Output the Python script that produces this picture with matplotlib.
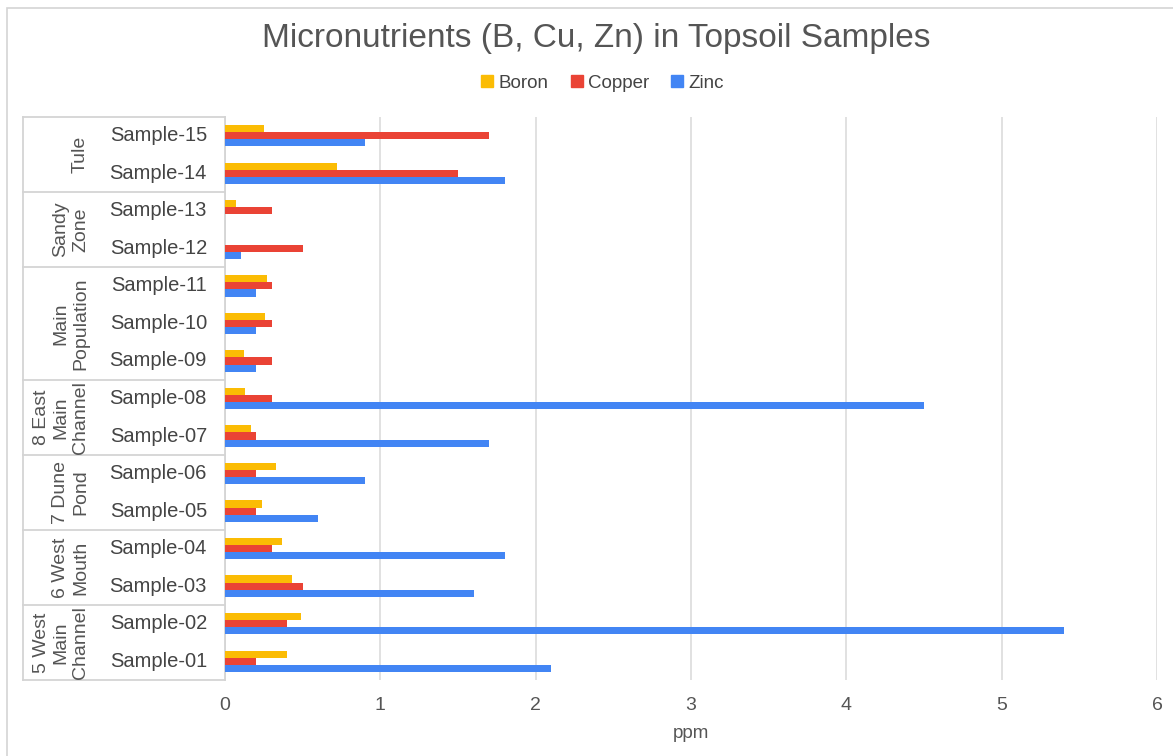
import matplotlib.pyplot as plt
import numpy as np
from matplotlib.lines import Line2D
from matplotlib.patches import Rectangle
from matplotlib.transforms import blended_transform_factory

plt.rcParams['font.family'] = ['Liberation Sans', 'DejaVu Sans']

# ── data (bottom row first) ──────────────────────────────────────────────────
samples = ['Sample-01', 'Sample-02', 'Sample-03', 'Sample-04', 'Sample-05',
           'Sample-06', 'Sample-07', 'Sample-08', 'Sample-09', 'Sample-10',
           'Sample-11', 'Sample-12', 'Sample-13', 'Sample-14', 'Sample-15']
boron  = [0.40, 0.49, 0.43, 0.37, 0.24, 0.33, 0.17, 0.13, 0.12, 0.26,
          0.27, 0.00, 0.07, 0.72, 0.25]
copper = [0.20, 0.40, 0.50, 0.30, 0.20, 0.20, 0.20, 0.30, 0.30, 0.30,
          0.30, 0.50, 0.30, 1.50, 1.70]
zinc   = [2.10, 5.40, 1.60, 1.80, 0.60, 0.90, 1.70, 4.50, 0.20, 0.20,
          0.20, 0.10, 0.00, 1.80, 0.90]

groups      = ['5 West\nMain\nChannel', '6 West\nMouth', '7 Dune\nPond',
               '8 East\nMain\nChannel', 'Main\nPopulation', 'Sandy\nZone', 'Tule']
group_sizes = [2, 2, 2, 2, 3, 2, 2]

series = [('Boron', boron, '#fbbc04'), ('Copper', copper, '#ea4335'), ('Zinc', zinc, '#4285f4')]

W, H = 1173, 756
fig = plt.figure(figsize=(W / 100, H / 100), dpi=100)

# outer chart border
fig.patches.append(Rectangle((7 / W, -0.05), 1.2, 1 - 8 / H + 0.05, transform=fig.transFigure,
                             fill=False, edgecolor='#d4d4d4', linewidth=1.2))

ax = fig.add_axes([225 / W, 1 - 680 / H, 932 / W, 563 / H])

y = np.arange(len(samples))
bh = 0.19
for k, (name, vals, col) in enumerate(series):
    ax.barh(y + (1 - k) * bh, vals, height=bh, color=col, label=name, zorder=3)

ax.set_xlim(0, 6)
ax.set_ylim(-0.5, len(samples) - 0.5)
ax.set_xticks(range(7))
ax.tick_params(axis='x', length=0, pad=12, labelsize=14, labelcolor='#555555')
ax.set_yticks([])
for s in ax.spines.values():
    s.set_visible(False)
ax.grid(axis='x', color='#dcdcdc', linewidth=1.2, zorder=0)
ax.set_xlabel('ppm', fontsize=13.5, color='#555555', labelpad=8)

# ── category table on the left ───────────────────────────────────────────────
tr = blended_transform_factory(fig.transFigure, ax.transData)
x_left, x_right = 23 / W, 225 / W
line_kw = dict(transform=tr, color='#d4d4d4', linewidth=1.3, clip_on=False)
ax.add_line(Line2D([x_left, x_left], [-0.5, len(samples) - 0.5], **line_kw))
ax.add_line(Line2D([x_right, x_right], [-0.5, len(samples) - 0.5], **line_kw))

for i, s in enumerate(samples):
    ax.text(207 / W, i, s, transform=tr, ha='right', va='center',
            fontsize=14.5, color='#444444')

start = 0
ax.add_line(Line2D([x_left, x_right], [-0.5, -0.5], **line_kw))
for g, n in zip(groups, group_sizes):
    top = start + n - 0.5
    ax.add_line(Line2D([x_left, x_right], [top, top], **line_kw))
    ax.text(89 / W, start + (n - 1) / 2, g, transform=tr, rotation=90,
            ha='right', va='center', multialignment='center',
            fontsize=14, color='#555555', linespacing=1.2)
    start += n

# ── title and legend ─────────────────────────────────────────────────────────
fig.text(596 / W, 1 - 38 / H, 'Micronutrients (B, Cu, Zn) in Topsoil Samples',
         ha='center', va='center', fontsize=24, color='#555555')

handles = [Line2D([], [], marker='s', linestyle='none', markersize=9, color=c)
           for _, _, c in series]
fig.legend(handles, [n for n, _, _ in series], loc='center', ncol=3,
           bbox_to_anchor=(601 / W, 1 - 83 / H), frameon=False, fontsize=13.5,
           handletextpad=0.1, columnspacing=1.0, handlelength=1.0, labelcolor='#444444')

plt.savefig('out.png', dpi=100)
